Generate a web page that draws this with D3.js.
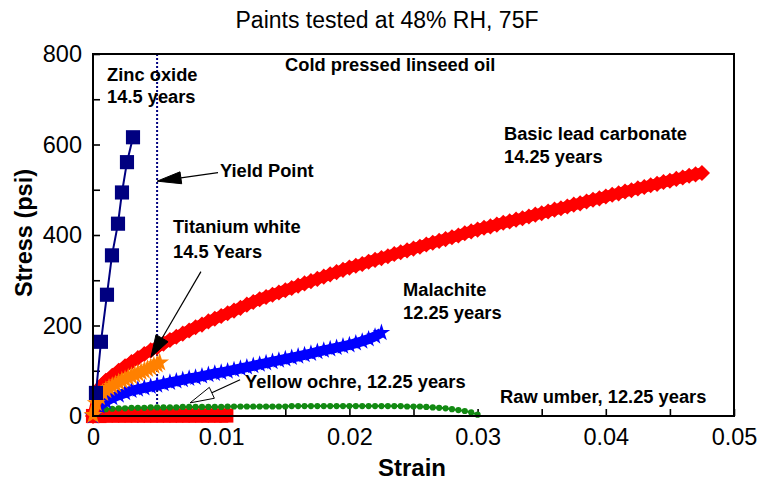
<!DOCTYPE html>
<html>
<head>
<meta charset="utf-8">
<script src="https://cdn.jsdelivr.net/npm/d3@7"></script>
<style>
  body { margin: 0; background: #fff; }
  svg { display: block; font-family: "Liberation Sans", Arial, sans-serif; }
</style>
</head>
<body>
<svg width="761" height="481"></svg>
<script>
(function (d3) {
  'use strict';

  // [strain, stress psi]
  var zincOxide = [[0.00023,51],[0.00062,164],[0.00109,268],[0.00148,355],[0.00195,425],[0.00226,494],[0.00265,561],[0.00312,616]];

  var basicLead = [[0,0],[0.0005,62],[0.001,78],[0.0015,89],[0.002,100],[0.0025,110],[0.003,119],[0.0035,128],[0.004,137],[0.0045,145],
    [0.005,152],[0.0055,160],[0.006,168],[0.0065,175],[0.007,182],[0.0075,189],[0.008,196],[0.0085,202],[0.009,209],[0.0095,215],
    [0.01,221],[0.0105,227],[0.011,233],[0.0115,239],[0.012,246],[0.0125,252],[0.013,258],[0.0135,263],[0.014,268],[0.0145,273],
    [0.015,278],[0.0155,283],[0.016,288],[0.0165,293],[0.017,298],[0.0175,303],[0.018,308],[0.0185,313],[0.019,318],[0.0195,323],
    [0.02,328],[0.0205,332],[0.021,336],[0.0215,341],[0.022,345],[0.0225,349],[0.023,353],[0.0235,358],[0.024,362],[0.0245,366],
    [0.025,370],[0.0255,374],[0.026,379],[0.0265,383],[0.027,387],[0.0275,391],[0.028,395],[0.0285,399],[0.029,404],[0.0295,408],
    [0.03,412],[0.0305,416],[0.031,419],[0.0315,423],[0.032,427],[0.0325,430],[0.033,434],[0.0335,437],[0.034,441],[0.0345,445],
    [0.035,448],[0.0355,452],[0.036,456],[0.0365,459],[0.037,463],[0.0375,467],[0.038,470],[0.0385,474],[0.039,478],[0.0395,481],
    [0.04,485],[0.0405,489],[0.041,492],[0.0415,496],[0.042,499],[0.0425,503],[0.043,506],[0.0435,510],[0.044,513],[0.0445,517],
    [0.045,520],[0.0455,524],[0.046,527],[0.0465,531],[0.047,534],[0.0475,537]];

  var titaniumWhite = [[0,2],[0.00025,28],[0.0005,42],[0.00075,51],[0.001,57],[0.00125,62],[0.0015,66],[0.00175,70],[0.002,74],
    [0.00225,78],[0.0025,81],[0.00275,85],[0.003,88],[0.00325,91],[0.0035,94],[0.00375,97],[0.004,100],[0.00425,104],[0.0045,107],
    [0.00475,111],[0.005,114],[0.0052,118]];

  var malachite = [[0,0],[0.0005,22],[0.001,32],[0.0015,40],[0.002,46],[0.0025,51],[0.003,56],[0.0035,59],[0.004,62],[0.0045,65],
    [0.005,68],[0.0055,71],[0.006,74],[0.0065,77],[0.007,80],[0.0075,83],[0.008,85],[0.0085,88],[0.009,91],[0.0095,94],
    [0.01,96],[0.0105,99],[0.011,102],[0.0115,105],[0.012,108],[0.0125,111],[0.013,114],[0.0135,117],[0.014,120],[0.0145,123],
    [0.015,126],[0.0155,129],[0.016,132],[0.0165,135],[0.017,138],[0.0175,142],[0.018,145],[0.0185,148],[0.019,151],[0.0195,154],
    [0.02,157],[0.0205,161],[0.021,165],[0.0215,170],[0.022,176],[0.0225,184]];

  var yellowOchre = [[0,4],[0.0005,12],[0.001,15],[0.0015,16],[0.002,17],[0.0025,17],[0.003,18],[0.0035,18],[0.004,18],[0.0045,19],
    [0.005,19],[0.0055,19],[0.006,19],[0.0065,19],[0.007,20],[0.0075,20],[0.008,20],[0.0085,20],[0.009,20],[0.0095,20],
    [0.01,20],[0.0105,21],[0.011,21],[0.0115,21],[0.012,21],[0.0125,21],[0.013,21],[0.0135,21],[0.014,21],[0.0145,21],
    [0.015,21],[0.0155,22],[0.016,22],[0.0165,22],[0.017,22],[0.0175,22],[0.018,22],[0.0185,22],[0.019,22],[0.0195,22],
    [0.02,22],[0.0205,22],[0.021,22],[0.0215,22],[0.022,22],[0.0225,22],[0.023,22],[0.0235,22],[0.024,22],[0.0245,21],
    [0.025,21],[0.0255,21],[0.026,20],[0.0265,19],[0.027,18],[0.0275,17],[0.028,15],[0.0285,13],[0.029,11],[0.0295,8],[0.03,3]];

  var rawUmber = [[0,0],[0.0005,0],[0.001,1],[0.0015,1],[0.002,1],[0.0025,1],[0.003,1],[0.0035,1],[0.004,1],[0.0045,1],
    [0.005,1],[0.0055,1],[0.006,1],[0.0065,1],[0.007,1],[0.0075,1],[0.008,1],[0.0085,1],[0.009,1],[0.0095,1],[0.01,1],[0.0104,1]];

  var xMajor = [0, 0.01, 0.02, 0.03, 0.04, 0.05];
  var xLabels = ['0', '0.01', '0.02', '0.03', '0.04', '0.05'];
  var xMinor = [0.005, 0.015, 0.025, 0.035, 0.045];
  var yMajor = [0, 200, 400, 600, 800];
  var yMinor = [100, 300, 500, 700];
  var yieldStrain = 0.005;

  var svg = d3.select('svg');
  var x = d3.scaleLinear().domain([0, 0.05]).range([93, 734]);
  var y = d3.scaleLinear().domain([0, 800]).range([416, 54]);

  // title
  svg.append('text')
    .attr('x', 387).attr('y', 28)
    .attr('text-anchor', 'middle')
    .attr('font-size', 23)
    .text('Paints tested at 48% RH, 75F');

  // axes, ticks pointing inward
  var xAxis = d3.axisBottom(x)
    .tickValues(xMajor.concat(xMinor))
    .tickSizeInner(-7).tickSizeOuter(0).tickPadding(12)
    .tickFormat(function (d) { var i = xMajor.indexOf(d); return i < 0 ? '' : xLabels[i]; });

  var yAxis = d3.axisLeft(y)
    .tickValues(yMajor.concat(yMinor))
    .tickSizeInner(-7).tickSizeOuter(0).tickPadding(11)
    .tickFormat(function (d) { return yMajor.indexOf(d) < 0 ? '' : d; });

  var gx = svg.append('g').attr('transform', 'translate(0,416)').call(xAxis);
  var gy = svg.append('g').attr('transform', 'translate(93,0)').call(yAxis);
  [gx, gy].forEach(function (g) {
    g.select('.domain').remove();
    g.selectAll('line').attr('stroke', '#000').attr('stroke-width', 1.6);
    g.selectAll('text').attr('font-size', 23.5).attr('fill', '#000').attr('font-family', '"Liberation Sans", Arial, sans-serif');
  });

  svg.append('text')
    .attr('transform', 'translate(32,233) rotate(-90)')
    .attr('text-anchor', 'middle')
    .attr('font-size', 23.5).attr('font-weight', 'bold')
    .text('Stress (psi)');

  svg.append('text')
    .attr('x', 412).attr('y', 476)
    .attr('text-anchor', 'middle')
    .attr('font-size', 24).attr('font-weight', 'bold')
    .text('Strain');

  // yield point line
  svg.append('line')
    .attr('x1', x(yieldStrain)).attr('x2', x(yieldStrain))
    .attr('y1', y(800)).attr('y2', y(0))
    .attr('stroke', '#000080').attr('stroke-width', 2)
    .attr('stroke-dasharray', '2,2');

  var line = d3.line().x(function (d) { return x(d[0]); }).y(function (d) { return y(d[1]); });

  var series = [
    { data: rawUmber, color: '#ff0000', symbol: d3.symbolSquare, size: 200, lw: 0, rot: 0 },
    { data: yellowOchre, color: '#128a12', symbol: d3.symbolCircle, size: 30, lw: 2, rot: 0 },
    { data: malachite, color: '#0000ff', symbol: d3.symbolStar, size: 95, lw: 10, rot: 0 },
    { data: basicLead, color: '#ff0000', symbol: d3.symbolSquare, size: 130, lw: 11, rot: 45 },
    { data: titaniumWhite, color: '#ff8000', symbol: d3.symbolStar, size: 110, lw: 9, rot: 0 },
    { data: zincOxide, color: '#000080', symbol: d3.symbolSquare, size: 200, lw: 2, rot: 0 }
  ];

  series.forEach(function (s) {
    var g = svg.append('g');
    if (s.lw) {
      g.append('path')
        .attr('d', line(s.data))
        .attr('fill', 'none')
        .attr('stroke', s.color)
        .attr('stroke-width', s.lw);
    }
    g.selectAll('path.pt').data(s.data)
      .enter().append('path')
        .attr('class', 'pt')
        .attr('d', d3.symbol().type(s.symbol).size(s.size))
        .attr('transform', function (d) { return 'translate(' + x(d[0]) + ',' + y(d[1]) + ') rotate(' + s.rot + ')'; })
        .attr('fill', s.color);
  });

  // frame
  svg.append('rect')
    .attr('x', 93).attr('y', 54)
    .attr('width', 734 - 93).attr('height', 416 - 54)
    .attr('fill', 'none').attr('stroke', '#000').attr('stroke-width', 2);

  // labels
  var notes = [
    ['Zinc oxide', 0.0011, 740], ['14.5 years', 0.0011, 692],
    ['Cold pressed linseed oil', 0.01498, 762],
    ['Yield Point', 0.0099, 528],
    ['Titanium white', 0.00624, 404], ['14.5 Years', 0.00624, 349],
    ['Basic lead carbonate', 0.03206, 610], ['14.25 years', 0.03206, 559],
    ['Malachite', 0.02418, 265], ['12.25 years', 0.02418, 214],
    ['Yellow ochre, 12.25 years', 0.01186, 62],
    ['Raw umber, 12.25 years', 0.03175, 29]
  ];
  svg.selectAll('text.note').data(notes)
    .enter().append('text')
      .attr('class', 'note')
      .attr('x', function (d) { return x(d[1]); })
      .attr('y', function (d) { return y(d[2]); })
      .attr('font-size', 18.3).attr('font-weight', 'bold')
      .text(function (d) { return d[0]; });

  // arrows: tail, tip (data units), filled or open head
  var arrows = [
    { from: [0.00975, 538], to: [0.005, 519], filled: true, len: 24, hw: 6 },
    { from: [0.00842, 319], to: [0.00452, 130], filled: true, len: 22, hw: 7 },
    { from: [0.01147, 80], to: [0.00757, 29], filled: false, len: 24, hw: 6 }
  ];
  arrows.forEach(function (a) {
    var x0 = x(a.from[0]), y0 = y(a.from[1]), x1 = x(a.to[0]), y1 = y(a.to[1]);
    var dx = x1 - x0, dy = y1 - y0, L = Math.sqrt(dx * dx + dy * dy);
    var ux = dx / L, uy = dy / L;
    var bx = x1 - ux * a.len, by = y1 - uy * a.len;
    svg.append('line')
      .attr('x1', x0).attr('y1', y0).attr('x2', bx).attr('y2', by)
      .attr('stroke', '#000').attr('stroke-width', 1.2);
    svg.append('path')
      .attr('d', 'M' + x1 + ',' + y1 +
        'L' + (bx - uy * a.hw) + ',' + (by + ux * a.hw) +
        'L' + (bx + uy * a.hw) + ',' + (by - ux * a.hw) + 'Z')
      .attr('fill', a.filled ? '#000' : '#fff')
      .attr('stroke', '#000').attr('stroke-width', 1);
  });

}(d3));
</script>
</body>
</html>
